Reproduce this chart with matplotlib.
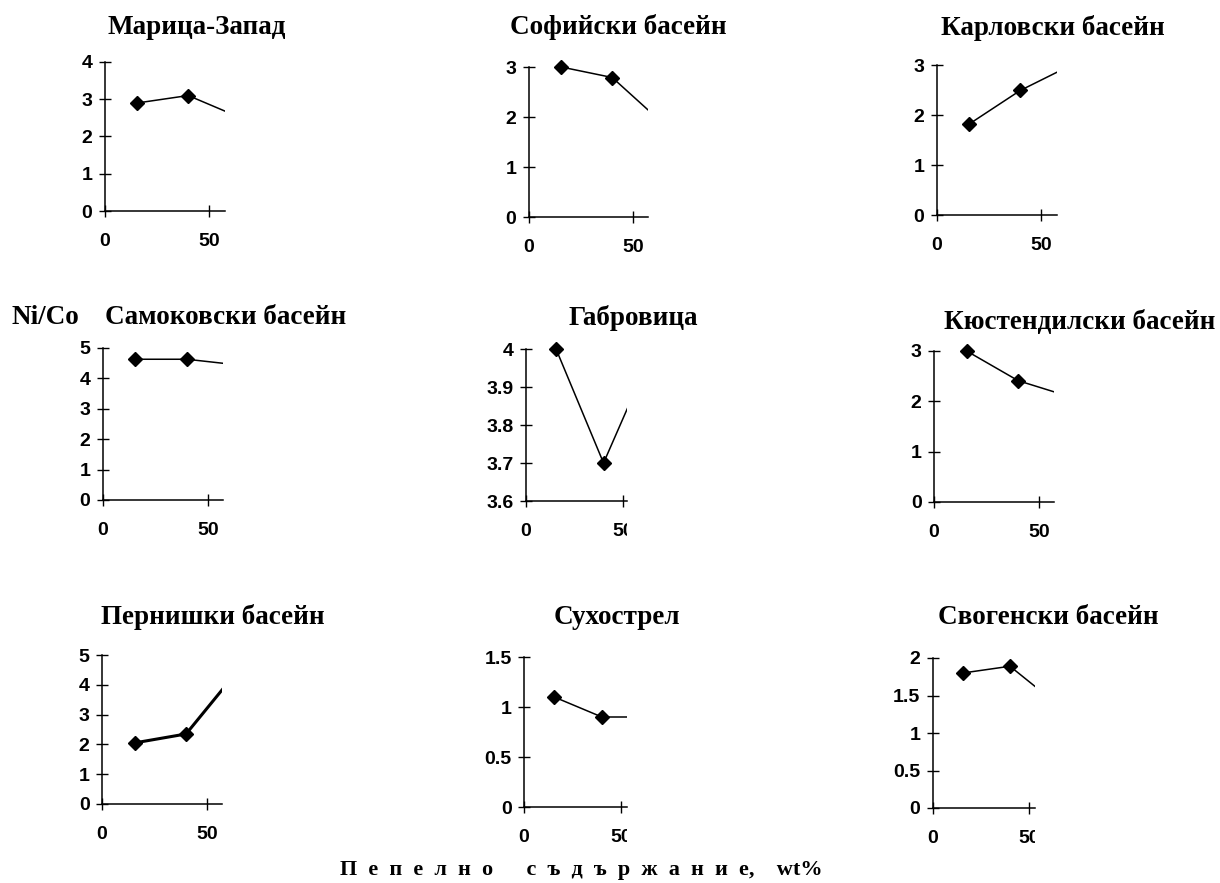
import numpy as np
import matplotlib
matplotlib.use("Agg")
from matplotlib import pyplot as plt
from matplotlib.transforms import Bbox, TransformedBbox

# data (Ni/Co vs ash content, wt%)
titles = ["Марица-Запад", "Софийски басейн", "Карловски басейн",
          "Самоковски басейн", "Габровица", "Кюстендилски басейн",
          "Пернишки басейн", "Сухострел", "Свогенски басейн"]
ash = [15.5, 40, 70]          # third sample lies beyond the plotted range

maritsa = [2.9, 3.1, 2.39]
sofia = [3.0, 2.79, 1.66]
karlovo = [1.82, 2.49, 3.11]
samokov = [4.63, 4.63, 4.40]
gabrovitsa = [4.0, 3.7, 4.05]
kyustendil = [3.0, 2.41, 2.02]
pernik = [2.05, 2.35, 4.94]
suhostrel = [1.1, 0.9, 0.9]
svoge = [1.8, 1.89, 1.27]
series = [maritsa, sofia, karlovo, samokov, gabrovitsa, kyustendil,
          pernik, suhostrel, svoge]

y_min = [0, 0, 0, 0, 3.6, 0, 0, 0, 0]
y_max = [4, 3, 3, 5, 4.0, 3, 5, 1.5, 2]
y_step = [1, 1, 1, 1, 0.1, 1, 1, 0.5, 0.5]
x_max = [57.7, 57.2, 57.7, 57.3, 52.1, 57.0, 57.1, 52.9, 53.0]
x_ticks = [0, 50]
y_label = "Ni/Co"
x_words = ["Пепелно", "съдържание"]
x_unit = "wt%"

# layout in pixels (left, top, right, bottom) of each plot area
W, H = 1220, 883
boxes = [(105, 62, 225, 211), (529, 67, 648, 217), (937, 65, 1057, 215),
         (103, 348, 223, 500), (526, 349, 627, 501), (934, 351, 1054, 502),
         (102, 655, 222, 804), (524, 657, 627, 807), (933, 658, 1035, 808)]
title_xy = [(197, 28), (618, 27), (1053, 28),
            (226, 317), (633, 318), (1080, 322),
            (213, 617), (617, 618), (1048, 618)]
line_w = [1.1, 1.1, 1.1, 1.1, 1.1, 1.1, 2.2, 1.1, 1.1]
clip_labels = [False, False, False, False, True, False, False, True, True]

serif = "Liberation Serif"
sans = "Liberation Sans"

fig = plt.figure(figsize=(W / 100, H / 100), dpi=100)
fig.patch.set_facecolor("white")

for i, vals in enumerate(series):
    l, t, r, b = boxes[i]
    ax = fig.add_axes([l / W, 1 - b / H, (r - l) / W, (b - t) / H])
    ax.plot(ash, vals, color="black", lw=line_w[i])
    ax.plot(ash, vals, linestyle="none", marker="D", ms=7.5, color="black",
            markevery=[0, 1], clip_on=False)
    ax.set_xlim(0, x_max[i])
    ax.set_ylim(y_min[i], y_max[i])

    for side in ["top", "right"]:
        ax.spines[side].set_visible(False)
    for side in ["left", "bottom"]:
        ax.spines[side].set_linewidth(1.1)

    yt = np.round(np.arange(y_min[i], y_max[i] + y_step[i] / 2, y_step[i]), 2)
    ax.set_yticks(yt)
    ax.set_yticklabels([f"{v:g}" for v in yt], fontweight="bold", family=sans, fontsize=14)
    ax.set_xticks(x_ticks)
    ax.set_xticklabels([str(v) for v in x_ticks], fontweight="bold", family=sans, fontsize=14)
    ax.tick_params(axis="both", direction="inout", length=8, width=1, color="black")
    ax.tick_params(axis="y", pad=5)
    ax.tick_params(axis="x", pad=12)

    if clip_labels[i]:
        cb = TransformedBbox(Bbox.from_extents(-1, -1, 1.0, 1), ax.transAxes)
        for lbl in ax.get_xticklabels():
            lbl.set_clip_box(cb)
            lbl.set_clip_on(True)

    fig.text(title_xy[i][0] / W, 1 - title_xy[i][1] / H, titles[i],
             family=serif, fontweight="bold", fontsize=19.5, ha="center", va="center")

fig.text(45 / W, 1 - 317 / H, y_label, family=serif, fontweight="bold",
         fontsize=19.5, ha="center", va="center")

# letter-spaced axis caption
sp = "\u2002"
xcap = (sp * 3).join(sp.join(w) for w in x_words) + "," + sp * 2 + x_unit
fig.text(581 / W, 1 - 870 / H, xcap, family=serif, fontweight="bold",
         fontsize=16, ha="center", va="center")

fig.savefig("out.png", dpi=100, facecolor="white")
